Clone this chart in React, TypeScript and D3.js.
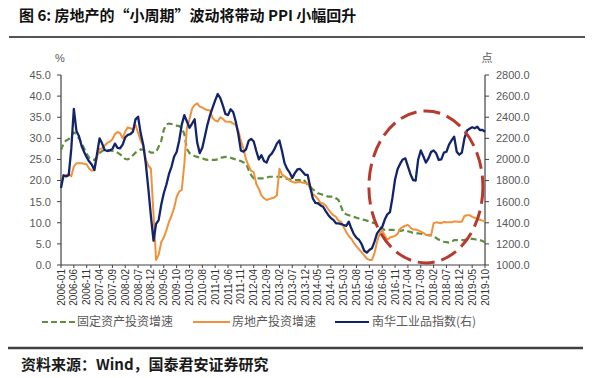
import React from "react";
import * as d3 from "d3";

// Monthly from 2006-01 to 2019-10
const START_YEAR = 2006;
const N_MONTHS = 166;
const months: string[] = Array.from({ length: N_MONTHS }, (_, i) => {
  const y = START_YEAR + Math.floor(i / 12);
  const m = (i % 12) + 1;
  return `${y}-${m < 10 ? "0" + m : m}`;
});

// 固定资产投资增速 (%)
const faiGrowth: number[] = [
  27.2, 28.8, 29.5, 29.8, 30.6, 31.4, 31.0, 30.0, 28.9, 27.6, 26.3, 25.4,
  24.9, 24.9, 25.5, 26.5, 27.0, 27.2, 27.2, 27.2, 27.0, 26.9, 26.6, 26.2,
  25.7, 25.1, 25.0, 25.4, 26.0, 26.6, 27.0, 27.4, 27.3, 27.2, 27.0, 26.6,
  26.6, 26.8, 28.0, 29.4, 32.0, 33.3, 33.5, 33.4, 33.2, 33.0, 32.9, 32.5,
  31.0, 27.5, 26.5, 26.1, 25.8, 25.6, 25.4, 25.3, 25.0, 24.9, 24.9, 24.9,
  24.9, 25.0, 25.4, 25.5, 25.6, 25.6, 25.4, 25.2, 25.0, 24.8, 24.6, 24.3,
  24.1, 22.5, 21.3, 20.5, 20.5, 20.5, 20.5, 20.5, 20.7, 20.9, 20.9, 20.9,
  20.9, 20.9, 20.8, 20.6, 20.4, 20.3, 20.2, 20.1, 20.1, 20.1, 20.4, 19.8,
  19.0, 18.5, 17.9, 17.5, 17.0, 16.8, 16.6, 16.4, 16.2, 16.2, 16.2, 15.8,
  15.4, 13.8, 12.3, 12.0, 11.8, 11.6, 11.4, 11.2, 11.0, 10.8, 10.7, 10.5,
  10.3, 10.1, 9.9, 9.5, 9.0, 8.6, 8.3, 8.3, 8.3, 8.3, 8.3, 8.2,
  8.1, 8.2, 8.3, 8.0, 7.8, 7.6, 7.5, 7.5, 7.4, 7.2, 7.1, 7.1,
  7.0, 6.8, 6.4, 6.0, 5.8, 5.5, 5.4, 5.3, 5.5, 5.9, 5.9, 5.9,
  5.9, 5.9, 6.1, 6.3, 6.2, 6.1, 6.0, 5.9, 5.7, 5.4,
];

// 房地产投资增速 (%)
const reGrowth: number[] = [
  20.9, 21.0, 21.3, 21.5, 21.0, 23.3, 24.1, 24.1, 24.1, 24.0, 23.8, 22.8,
  22.3, 22.5, 25.5, 27.5, 27.6, 28.3, 28.9, 29.2, 29.8, 31.0, 31.5, 31.2,
  30.0, 31.6, 32.6, 32.4, 32.0, 33.2, 31.3, 29.5, 28.3, 25.0, 23.5, 22.8,
  12.0, 1.2, 2.4, 5.4, 6.5, 8.2, 10.2, 11.6, 13.5, 16.1, 17.4, 17.8,
  24.0, 32.5, 34.5, 37.0, 37.9, 38.3, 37.5, 37.3, 36.9, 36.7, 36.6, 34.8,
  34.2, 34.0, 35.0, 34.6, 34.0, 33.9, 33.9, 33.5, 33.2, 31.8, 29.5, 27.6,
  25.0, 23.5, 22.3, 22.0, 19.2, 18.0, 16.5, 15.8, 15.4, 15.6, 15.8, 16.0,
  16.5, 22.8, 21.4, 21.0, 20.6, 20.0, 19.7, 19.5, 19.6, 19.7, 19.5, 19.4,
  19.3, 18.0, 16.8, 16.3, 15.6, 14.7, 14.6, 14.1, 13.2, 12.4, 11.8, 11.4,
  10.5, 10.2, 9.0, 7.8, 6.8, 6.2, 5.2, 4.4, 3.7, 3.0, 2.3, 1.5,
  1.2, 1.2, 2.8, 5.5, 7.4, 8.2, 7.0, 6.0, 6.5, 6.7, 6.9, 7.4,
  8.6, 9.0, 9.3, 9.5, 8.9, 8.4, 8.4, 8.2, 7.9, 7.6, 7.2, 7.0,
  7.0, 9.9, 10.1, 10.0, 9.9, 10.2, 10.1, 10.1, 10.1, 10.3, 10.3, 10.2,
  10.3, 11.6, 11.8, 11.8, 11.4, 11.2, 10.9, 10.7, 10.5, 10.3,
];

// 南华工业品指数 (右轴)
const nanhuaIndex: number[] = [
  1730, 1850, 1840, 1850, 2100, 2480, 2270, 2220, 2130, 2070, 2020, 1980,
  1950, 1900, 2050, 2200, 2150, 2090, 2080, 2085, 2100, 2150, 2110, 2106,
  2140, 2210, 2232, 2240, 2263, 2380, 2405, 2250, 2140, 1960, 1720, 1460,
  1230, 1390, 1426, 1570, 1680, 1760, 1860, 1930, 2026, 2070, 2180, 2330,
  2420, 2360, 2300, 2340, 2380, 2160, 2060, 2110, 2220, 2330, 2420, 2490,
  2560, 2620, 2580, 2510, 2430, 2420, 2475, 2450, 2360, 2240, 2085, 2073,
  2095, 2175, 2195, 2170, 2080, 2000, 2040, 1985, 1970, 2030, 2055, 2095,
  2150, 2180, 2080, 1965, 1910, 1875, 1825, 1870, 1905, 1910, 1884, 1855,
  1853, 1740, 1630, 1588, 1585, 1565, 1552, 1510, 1474, 1445, 1428, 1395,
  1395, 1388, 1379, 1370, 1410, 1345, 1290, 1258, 1237, 1197, 1135, 1117,
  1142, 1158, 1221, 1300, 1333, 1360, 1430, 1480, 1500, 1640, 1810, 1910,
  1960, 2000, 2010, 1935, 1860, 1805, 1800, 2000, 2085, 2030, 1970, 2010,
  2070, 2085, 2058, 1995, 2000, 2065, 2073, 2140, 2180, 2216, 2073, 2045,
  2065, 2200, 2275, 2290, 2305, 2295, 2310, 2279, 2280, 2263,
];

const leftTicks: number[] = [0, 5, 10, 15, 20, 25, 30, 35, 40, 45];
const rightTicks: number[] = [1000, 1200, 1400, 1600, 1800, 2000, 2200, 2400, 2600, 2800];
const seriesNames: string[] = ["固定资产投资增速", "房地产投资增速", "南华工业品指数(右)"];

const TITLE = "图 6: 房地产的“小周期”波动将带动 PPI 小幅回升";
const SOURCE = "资料来源：Wind，国泰君安证券研究";

const COLORS = { green: "#5E8E3E", orange: "#F0923C", navy: "#12256B", red: "#B8392D" };
const CJK = "'Noto Sans CJK SC', 'Noto Sans', sans-serif";
const SANS = "'Liberation Sans', Arial, sans-serif";

export default function App() {
  const x0 = 61, x1 = 485, yTop = 75, yBot = 265;
  const x = d3.scaleLinear().domain([0, N_MONTHS - 1]).range([x0, x1]);
  const yL = d3.scaleLinear().domain([0, 45]).range([yBot, yTop]);
  const yR = d3.scaleLinear().domain([1000, 2800]).range([yBot, yTop]);

  const lineL = d3.line<number>().x((_, i) => x(i)).y((d) => yL(d));
  const lineR = d3.line<number>().x((_, i) => x(i)).y((d) => yR(d));

  const xTickIdx = d3.range(0, N_MONTHS, 5);
  const axisColor = "#404040";
  const labelColor = "#595959";

  return (
    <svg width={600} height={378} style={{ position: "absolute", left: 0, top: 0, background: "#fff" }}>
      {/* title */}
      <text x={19} y={21} fontFamily={CJK} fontWeight={700} fontSize={15} fill="#111">{TITLE}</text>
      <line x1={9} x2={585} y1={37} y2={37} stroke="#555" strokeWidth={2} />

      {/* unit labels */}
      <text x={60} y={62} fontFamily={SANS} fontSize={11} fill={labelColor} textAnchor="middle">%</text>
      <text x={487} y={62} fontFamily={CJK} fontSize={11} fill={labelColor} textAnchor="middle">点</text>

      {/* left axis */}
      <line x1={x0} x2={x0} y1={yTop} y2={yBot} stroke={axisColor} strokeWidth={1.2} />
      {leftTicks.map((t) => (
        <g key={"l" + t}>
          <line x1={x0 - 4} x2={x0} y1={yL(t)} y2={yL(t)} stroke={axisColor} strokeWidth={1} />
          <text x={51} y={yL(t)} dy="0.35em" textAnchor="end" fontFamily={SANS} fontSize={11} fill={labelColor}>
            {t.toFixed(1)}
          </text>
        </g>
      ))}

      {/* right axis */}
      <line x1={x1} x2={x1} y1={yTop} y2={yBot} stroke={axisColor} strokeWidth={1.2} />
      {rightTicks.map((t) => (
        <g key={"r" + t}>
          <line x1={x1} x2={x1 + 4} y1={yR(t)} y2={yR(t)} stroke={axisColor} strokeWidth={1} />
          <text x={496} y={yR(t)} dy="0.35em" textAnchor="start" fontFamily={SANS} fontSize={11} fill={labelColor}>
            {t.toFixed(1)}
          </text>
        </g>
      ))}

      {/* x axis */}
      <line x1={x0} x2={x1} y1={yBot} y2={yBot} stroke={axisColor} strokeWidth={1.2} />
      {xTickIdx.map((i) => (
        <g key={"x" + i}>
          <line x1={x(i)} x2={x(i)} y1={yBot} y2={yBot + 3} stroke={axisColor} strokeWidth={1} />
          <text
            transform={`translate(${x(i)},${yBot + 4}) rotate(-90)`}
            dy="0.35em"
            textAnchor="end"
            fontFamily={SANS}
            fontSize={10}
            fill="#333"
          >
            {months[i]}
          </text>
        </g>
      ))}

      {/* series */}
      <path d={lineL(faiGrowth) || ""} fill="none" stroke={COLORS.green} strokeWidth={2.2} strokeDasharray="6 3.5" />
      <path d={lineL(reGrowth) || ""} fill="none" stroke={COLORS.orange} strokeWidth={2} strokeLinejoin="round" />
      <path d={lineR(nanhuaIndex) || ""} fill="none" stroke={COLORS.navy} strokeWidth={2.3} strokeLinejoin="round" />

      {/* highlight ellipse */}
      <ellipse cx={x(142)} cy={yR(1740)} rx={57} ry={76} fill="none" stroke={COLORS.red} strokeWidth={3} strokeDasharray="17 7" />

      {/* legend */}
      <g fontFamily={CJK} fontSize={12} fill={labelColor}>
        <line x1={42} x2={75} y1={322} y2={322} stroke={COLORS.green} strokeWidth={2.2} strokeDasharray="6 3" />
        <text x={77} y={322} dy="0.35em">{seriesNames[0]}</text>
        <line x1={193} x2={230} y1={322} y2={322} stroke={COLORS.orange} strokeWidth={2.2} />
        <text x={232} y={322} dy="0.35em">{seriesNames[1]}</text>
        <line x1={335} x2={369} y1={322} y2={322} stroke={COLORS.navy} strokeWidth={2.2} />
        <text x={372} y={322} dy="0.35em">{seriesNames[2]}</text>
      </g>

      {/* footer */}
      <line x1={8} x2={583} y1={348} y2={348} stroke="#404040" strokeWidth={2.5} />
      <text x={21} y={370} fontFamily={CJK} fontWeight={700} fontSize={15} fill="#1a1a1a">{SOURCE}</text>
    </svg>
  );
}
